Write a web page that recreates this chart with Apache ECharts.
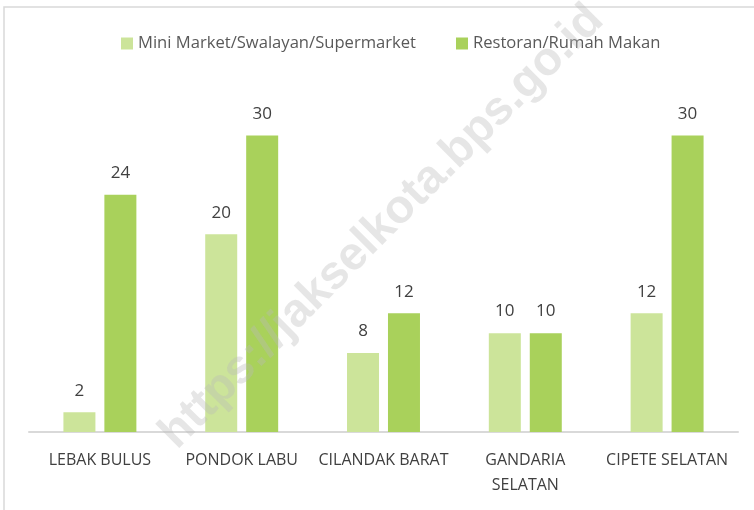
<!DOCTYPE html>
<html>
<head>
<meta charset="utf-8">
<script src="https://cdn.jsdelivr.net/npm/echarts@6/dist/echarts.min.js"></script>
<style>
  html, body { margin: 0; padding: 0; background: #fff; }
  #chart { width: 754px; height: 510px; }
</style>
</head>
<body>
<div id="chart"></div>
<script>
var categories = ['LEBAK BULUS', 'PONDOK LABU', 'CILANDAK BARAT', 'GANDARIA\nSELATAN', 'CIPETE SELATAN'];
var miniMarket = [2, 20, 8, 10, 12];
var restoran = [24, 30, 12, 10, 30];
var seriesNames = ['Mini Market/Swalayan/Supermarket', 'Restoran/Rumah Makan'];

var fontFam = '"Open Sans", "Noto Sans", sans-serif';
var myChart = echarts.init(document.getElementById('chart'));

var labelOpt = {
    show: true,
    position: 'top',
    distance: 13,
    color: '#404040',
    fontSize: 17,
    fontFamily: fontFam
};

var option = {
    backgroundColor: '#fff',
    animation: false,
    legend: {
        top: 30,
        left: 116,
        itemWidth: 12,
        itemHeight: 12,
        itemGap: 40,
        icon: 'rect',
        textStyle: { color: '#595959', fontSize: 16.6, fontFamily: fontFam },
        data: seriesNames
    },
    grid: { left: 29, right: 16, top: 86, bottom: 78 },
    xAxis: {
        type: 'category',
        data: categories,
        axisLine: { show: true, lineStyle: { color: '#d9d9d9', width: 2 } },
        axisTick: { show: false },
        axisLabel: {
            color: '#404040',
            fontSize: 16,
            fontFamily: fontFam,
            margin: 16,
            lineHeight: 25,
            interval: 0
        }
    },
    yAxis: {
        type: 'value',
        min: 0,
        max: 35,
        show: false,
        splitLine: { show: false }
    },
    series: [
        {
            name: seriesNames[0],
            type: 'bar',
            data: miniMarket,
            barWidth: 32,
            barGap: '28%',
            itemStyle: { color: '#cce49a' },
            label: labelOpt
        },
        {
            name: seriesNames[1],
            type: 'bar',
            data: restoran,
            barWidth: 32,
            itemStyle: { color: '#a9d15b' },
            label: labelOpt
        }
    ],
    graphic: [
        {
            type: 'rect',
            shape: { x: 4, y: 7, width: 800, height: 560 },
            style: { fill: null, stroke: '#d9d9d9', lineWidth: 1.5 },
            silent: true,
            z: -1
        },
        {
            type: 'text',
            x: 382,
            y: 227,
            rotation: Math.PI / 4,
            style: {
                text: 'https://jakselkota.bps.go.id',
                font: 'bold 47px "Liberation Sans", Arial, sans-serif',
                fill: 'rgba(185,185,185,0.36)',
                align: 'center',
                verticalAlign: 'middle'
            },
            silent: true,
            z: 100
        }
    ]
};

myChart.setOption(option);
</script>
</body>
</html>
